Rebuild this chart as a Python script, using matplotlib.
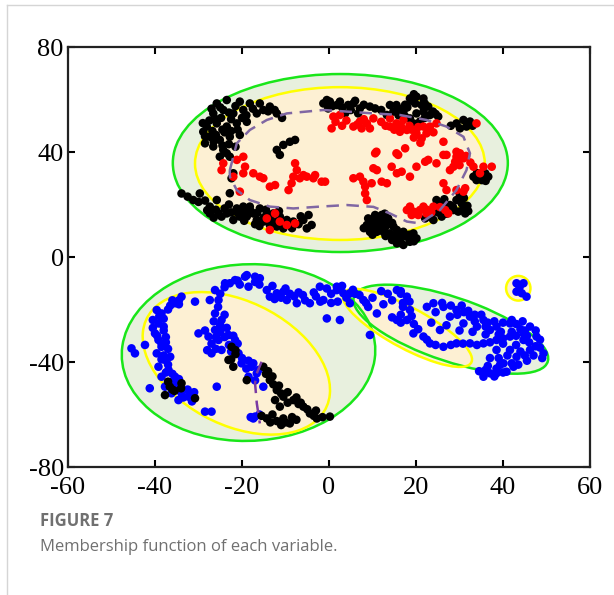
import matplotlib
matplotlib.use("Agg")
import matplotlib.pyplot as plt
from matplotlib.patches import Ellipse, Polygon
from matplotlib.lines import Line2D

plt.rcParams['axes.unicode_minus'] = False

# clusters (data units)
black_top = [
    (-25.8, 58.5), (-23.5, 59.8), (-20.5, 59.2), (-18.2, 58.5), (-15.9, 58.5), (-13.6, 57.3),
    (-12.0, 54.7), (-26.6, 54.7), (-24.3, 56.0), (-22.0, 54.7), (-19.7, 56.0), (-28.1, 49.7),
    (-25.8, 50.9), (-23.5, 49.7), (-21.2, 50.9), (-18.9, 51.5), (-27.4, 45.8), (-25.1, 44.6),
    (-22.8, 45.8), (-20.5, 46.5), (-26.6, 42.1), (-24.3, 40.8), (-22.8, 38.2), (-25.1, 38.2),
    (-28.9, 47.7), (-28.5, 43.3), (-15.1, 56.0), (-16.6, 54.7), (-24.8, 53.0), (-22.5, 52.5),
    (-26.8, 48.0), (-24.0, 47.5), (-21.0, 48.5), (-23.0, 43.0), (-27.5, 52.0), (-10.8, 53.0),
    (-27.0, 56.5), (-25.0, 57.0), (-21.5, 57.5), (-19.0, 54.0), (-17.5, 56.5), (-26.0, 52.5),
    (-23.0, 55.0), (-20.0, 53.0), (-28.5, 46.0), (-26.0, 46.5), (-24.5, 48.5), (-22.5, 48.0),
    (-26.5, 44.0), (-24.5, 42.5), (-23.5, 39.5), (-21.5, 42.0), (-29.0, 51.0), (-14.0, 55.5),
    (-12.5, 56.0),
    (-12.0, 40.8), (-10.5, 42.7), (-9.0, 43.9), (-7.8, 44.6), (-11.3, 38.9),
    (-22.4, 30.0), (-22.0, 31.9),
    (-33.9, 24.2), (-31.2, 21.7), (-29.7, 24.2), (-27.4, 19.2), (-27.4, 16.6), (-25.8, 21.7),
    (-25.4, 16.6), (-23.5, 16.6), (-22.8, 24.3), (-21.2, 18.5), (-19.7, 19.2), (-18.2, 19.2),
    (-20.5, 15.4), (-18.9, 15.4), (-17.4, 16.6), (-15.9, 18.5), (-16.6, 14.1), (-14.3, 16.6),
    (-15.1, 13.5), (-12.8, 16.6), (-11.3, 15.4), (-13.6, 12.2), (-9.7, 14.1), (-8.2, 13.5),
    (-10.5, 10.9), (-12.0, 11.6), (-5.9, 14.1), (-4.7, 16.0), (-5.1, 10.9), (-4.0, 12.2),
    (-22.0, 14.1), (-24.7, 15.4), (-19.0, 17.3), (-17.0, 12.5), (-21.0, 16.8), (-28.5, 21.5),
    (-26.0, 18.0), (-24.0, 18.5), (-22.5, 17.0), (-20.0, 17.5), (-18.0, 17.5), (-16.5, 16.8),
    (-15.0, 15.0), (-13.5, 14.5), (-12.0, 13.5), (-10.0, 12.5), (-8.5, 11.0), (-7.0, 12.5),
    (-6.5, 15.5), (-14.5, 18.0), (-11.5, 17.5), (-16.0, 11.8), (-19.5, 13.8), (-23.0, 20.0),
    (-32.5, 23.0), (-30.0, 21.0), (-28.0, 17.8), (-26.5, 15.0),
    (-1.3, 58.5), (0.2, 59.2), (1.8, 57.9), (2.5, 59.2), (4.4, 57.9), (5.6, 58.5), (7.1, 56.6),
    (9.4, 57.3), (10.6, 56.6), (-0.2, 56.6), (3.7, 54.7), (6.7, 54.7), (0.8, 57.5), (3.0, 57.0),
    (5.0, 56.0), (8.0, 58.0), (-0.5, 59.8), (6.0, 59.5), (12.0, 56.0),
    (14.0, 57.9), (15.5, 57.9), (14.8, 55.4), (13.3, 54.1), (17.1, 55.4), (18.6, 60.4),
    (20.1, 61.1), (21.7, 60.4), (19.8, 58.5), (21.3, 57.9), (22.8, 57.3), (23.9, 55.4),
    (21.7, 55.4), (23.2, 54.1), (25.1, 53.5), (20.1, 54.7), (19.4, 50.9), (20.9, 51.6),
    (18.6, 52.8), (19.5, 62.0), (17.5, 58.0), (16.0, 56.5), (18.0, 57.0), (19.0, 59.5),
    (22.0, 58.5), (24.5, 54.5), (22.0, 53.0), (17.5, 53.5), (16.0, 54.0),
    (29.3, 50.9), (30.9, 52.2), (32.4, 51.6), (30.1, 49.0), (31.6, 49.7), (28.0, 50.0), (33.0, 50.0),
    (33.2, 30.6), (34.7, 31.2), (35.9, 31.9), (35.1, 29.3), (36.6, 30.6), (33.9, 29.3),
    (36.0, 29.0), (34.0, 32.0),
    (24.7, 21.7), (26.3, 20.4), (24.7, 19.8), (27.8, 19.8), (29.3, 21.7), (30.1, 23.6),
    (28.6, 17.9), (30.9, 18.5), (31.3, 16.6), (29.7, 17.3), (23.2, 16.0), (22.1, 14.7),
    (24.0, 14.1), (25.9, 15.4), (30.5, 20.4), (26.5, 22.0), (28.5, 19.0), (31.8, 19.5),
    (31.0, 22.5), (27.0, 16.5), (25.0, 17.0), (32.0, 17.5), (23.5, 15.0),
    (9.0, 14.7), (10.6, 16.0), (12.1, 16.0), (13.6, 14.7), (8.7, 12.2), (10.2, 12.8),
    (11.7, 13.5), (13.3, 12.2), (14.8, 11.6), (9.4, 9.6), (11.0, 9.6), (12.5, 9.6),
    (14.0, 9.0), (11.3, 10.9), (9.8, 11.0), (12.8, 11.0), (10.0, 14.0), (12.0, 15.0),
    (8.0, 11.0), (9.5, 13.5), (11.5, 11.8), (13.0, 13.5), (14.5, 13.0), (10.8, 15.2),
    (12.8, 16.5), (10.0, 8.5), (13.0, 8.0), (15.0, 8.0),
    (15.6, 10.3), (17.1, 9.6), (16.3, 7.1), (17.9, 7.7), (19.4, 9.0), (20.1, 7.1),
    (18.6, 5.8), (15.6, 5.2), (17.1, 4.6), (16.5, 8.5), (18.5, 8.5), (19.5, 6.0),
    (16.5, 5.5), (14.5, 6.5),
]

red_top = [
    (-14.3, 14.7), (-12.4, 16.6), (-11.3, 13.5), (-13.6, 10.3), (-9.7, 12.2), (-7.8, 12.8),
    (-21.2, 37.0), (-19.7, 38.2), (-24.3, 35.7), (-24.7, 33.1), (-22.0, 30.6), (-19.7, 31.9),
    (-19.3, 34.4), (-17.4, 31.9), (-15.9, 30.6), (-15.1, 30.0), (-13.6, 26.8), (-12.4, 27.4),
    (-20.5, 24.9), (-9.3, 25.5), (-8.6, 28.1), (-8.2, 30.6), (-7.4, 33.1), (-7.8, 35.7),
    (-6.7, 30.0), (-5.1, 30.6), (-3.6, 30.0), (-5.9, 31.2), (-3.2, 31.2),
    (-1.7, 28.7), (-0.9, 28.7),
    (5.6, 30.0), (7.1, 30.6), (7.9, 28.7), (8.3, 26.8), (8.3, 24.2), (8.7, 21.7), (9.8, 28.1),
    (12.1, 28.7), (13.3, 28.1), (11.0, 33.1), (10.2, 33.8), (10.6, 39.5), (14.4, 34.4),
    (15.6, 31.9), (16.7, 32.5), (18.6, 30.6), (20.1, 34.4), (22.1, 36.3), (22.8, 37.0),
    (24.7, 35.7), (26.3, 38.9), (29.0, 36.3), (29.3, 38.2), (30.9, 37.6), (15.9, 38.9),
    (27.8, 33.1), (26.3, 28.1), (27.0, 25.5), (29.3, 25.5), (30.9, 24.9), (31.3, 26.2),
    (17.9, 17.9), (19.4, 17.3), (20.9, 17.9), (22.4, 16.6), (24.0, 19.2), (26.7, 17.9),
    (18.6, 19.2), (21.7, 19.2), (27.4, 16.6), (19.0, 16.0), (20.5, 16.0), (22.5, 18.0),
    (23.5, 17.0), (25.5, 19.0),
    (1.0, 53.5), (2.5, 54.1), (0.6, 49.0), (5.6, 49.7), (7.1, 51.6), (8.7, 50.9),
    (10.2, 52.8), (7.5, 49.0), (9.4, 49.0), (14.0, 52.8), (15.5, 50.9), (14.0, 49.7),
    (17.1, 52.2), (17.9, 48.4), (16.3, 47.7), (21.7, 49.7), (22.4, 47.1), (20.1, 47.1),
    (23.2, 49.7), (21.3, 45.2), (24.7, 50.9), (26.3, 43.9), (17.5, 41.4), (10.9, 40.1),
    (15.5, 39.5), (27.0, 38.9), (29.3, 40.1), (33.9, 50.9), (18.5, 50.0), (15.0, 48.5),
    (12.0, 51.5), (13.0, 50.0), (16.5, 50.0), (19.0, 48.5), (20.5, 49.5), (22.8, 48.3),
    (24.0, 47.5), (19.5, 45.5), (21.0, 43.5), (4.0, 52.0), (6.5, 50.5), (8.0, 52.5),
    (3.0, 50.0), (1.5, 51.5),
    (33.2, 34.4), (35.5, 34.4), (37.4, 34.4), (34.7, 31.9), (29.4, 36.9), (28.6, 34.4),
    (30.1, 39.5), (31.5, 38.5), (32.5, 36.0), (30.0, 35.0),
]

blue_bottom = [
    (-39.6, -20.2), (-38.5, -21.5), (-39.2, -25.3), (-40.0, -29.1), (-39.2, -31.6),
    (-38.5, -34.2), (-39.6, -36.7), (-37.7, -39.2), (-39.2, -41.8), (-36.9, -43.0),
    (-38.5, -45.6), (-35.4, -45.6), (-37.7, -49.4), (-36.2, -51.9), (-33.9, -51.9),
    (-34.6, -54.5), (-32.3, -53.2), (-35.4, -17.6), (-33.9, -15.1), (-30.8, -17.0),
    (-38.0, -23.5), (-40.5, -27.0), (-38.0, -28.0), (-37.5, -32.5), (-38.0, -37.5),
    (-37.0, -41.0), (-36.0, -47.5), (-34.5, -49.5), (-32.5, -50.5), (-31.5, -55.0),
    (-36.5, -18.5), (-34.5, -16.5), (-39.0, -22.5), (-40.5, -24.0), (-38.0, -26.5),
    (-39.5, -30.0), (-37.5, -30.5), (-38.5, -33.0), (-37.0, -35.0), (-38.5, -39.0),
    (-36.5, -38.0), (-37.5, -44.0), (-36.0, -44.5), (-34.5, -46.5), (-35.0, -48.5),
    (-33.5, -53.5), (-32.0, -52.0), (-31.0, -51.5), (-37.0, -20.0), (-36.0, -16.5),
    (-34.5, -18.0),
    (-44.6, -36.7), (-45.4, -34.8), (-42.3, -33.5), (-41.2, -50.0), (-28.5, -58.9),
    (-27.0, -58.9), (-25.8, -49.4),
    (-26.2, -12.6), (-23.9, -10.0), (-21.6, -8.8), (-19.3, -7.5), (-18.5, -11.3),
    (-25.4, -16.4), (-26.2, -21.5), (-24.7, -24.0), (-26.2, -27.8), (-27.7, -30.3),
    (-30.0, -29.1), (-25.4, -31.6), (-23.1, -29.7), (-27.0, -36.7), (-24.7, -35.4),
    (-21.6, -31.6), (-20.8, -36.7), (-20.1, -40.5), (-17.8, -41.8), (-18.5, -45.6),
    (-16.2, -43.0), (-17.0, -60.8), (-25.5, -19.0), (-25.0, -26.0), (-27.0, -33.0),
    (-23.0, -33.5), (-17.4, -40.5), (-16.6, -44.3), (-15.1, -49.4), (-17.4, -61.5),
    (-25.0, -14.0), (-24.0, -22.0), (-26.5, -24.5), (-25.0, -28.5), (-23.5, -27.0),
    (-28.5, -28.0), (-26.0, -30.5), (-24.0, -30.5), (-22.0, -30.0), (-21.0, -33.0),
    (-26.0, -35.0), (-28.0, -35.5), (-22.5, -36.0), (-20.0, -38.5), (-19.0, -42.5),
    (-18.5, -39.5), (-17.0, -47.0), (-16.0, -60.0), (-18.0, -61.0),
    (-27.4, -16.4), (-22.8, -10.0), (-18.9, -6.9), (-15.9, -8.1), (-14.3, -12.6),
    (-12.0, -13.8), (-9.7, -16.4), (-7.4, -17.6), (-4.4, -17.6), (-1.3, -16.4),
    (-2.1, -11.3), (1.8, -11.3), (3.3, -13.8), (4.8, -17.6), (7.9, -16.4), (11.0, -21.5),
    (9.4, -29.7), (2.5, -24.0), (-0.5, -23.4), (-13.6, -15.1), (-10.5, -13.2),
    (-6.0, -14.5), (-3.0, -15.0), (0.5, -14.0), (2.0, -17.0), (6.0, -14.0), (9.0, -19.0),
    (-11.0, -15.5), (-8.0, -15.0), (-17.0, -9.5), (-21.0, -9.0),
    (-24.0, -11.5), (-20.5, -10.5), (-17.0, -7.5), (-16.0, -10.5), (-13.0, -11.0),
    (-12.5, -16.0), (-10.0, -12.0), (-9.0, -14.0), (-7.0, -13.5), (-5.5, -16.5),
    (-3.5, -13.5), (-2.0, -17.0), (-0.5, -12.0), (0.5, -17.5), (3.0, -11.0), (4.0, -15.5),
    (5.5, -12.5), (7.0, -14.5), (8.5, -17.5), (10.0, -15.5), (12.0, -13.0), (13.5, -14.0),
    (14.5, -16.5), (16.5, -13.0), (12.5, -18.0),
    (1.8, -12.6), (4.8, -13.8), (15.6, -12.6), (17.9, -15.1), (18.6, -20.2),
    (17.9, -24.0), (15.6, -24.0), (19.4, -29.1), (21.7, -30.3), (23.2, -32.9),
    (26.3, -34.2), (29.3, -32.9), (32.4, -32.9), (35.5, -32.9), (38.5, -31.6),
    (41.6, -30.3), (44.7, -29.1), (47.7, -30.3), (49.3, -36.7), (46.2, -35.4),
    (43.1, -38.0), (40.1, -40.5), (37.0, -44.3), (35.5, -45.6), (38.5, -35.4),
    (41.6, -35.4), (44.7, -31.6), (17.0, -17.5), (16.5, -22.0), (19.5, -25.5),
    (26.3, -19.0), (29.3, -20.2), (32.4, -22.7), (35.5, -24.0), (38.5, -26.5),
    (41.6, -25.3), (27.8, -22.7), (30.9, -25.3), (34.0, -26.5), (37.0, -27.8),
    (42.0, -24.0), (46.2, -26.5), (25.5, -27.8), (22.5, -19.0), (24.0, -17.6),
    (28.0, -18.5), (31.0, -21.0), (33.5, -24.5), (36.5, -25.0), (39.5, -28.5),
    (44.0, -27.5), (46.0, -32.5), (43.0, -33.5), (40.0, -33.0), (47.5, -34.0),
    (45.0, -37.5), (42.0, -40.5), (38.5, -42.5), (37.0, -38.5), (35.5, -44.3),
    (38.5, -44.3), (40.8, -43.7), (42.4, -41.8), (39.3, -41.1),
    (16.5, -14.0), (18.5, -17.0), (17.0, -19.0), (19.0, -22.5), (16.5, -25.0), (14.5, -23.0),
    (20.5, -27.5), (22.5, -31.5), (24.5, -33.5), (28.0, -33.5), (30.8, -33.0), (34.0, -33.5),
    (37.0, -32.5), (40.0, -31.0), (43.0, -30.0), (45.5, -30.0), (48.5, -31.5), (48.5, -34.5),
    (49.0, -38.5), (47.0, -37.5), (44.0, -36.0), (41.0, -37.5), (39.0, -38.5), (36.5, -41.5),
    (36.0, -43.0), (34.5, -43.5), (38.0, -45.5), (40.0, -44.0), (43.5, -41.0), (45.5, -39.5),
    (24.5, -21.0), (26.0, -17.5), (29.5, -22.0), (30.5, -18.5), (32.0, -20.5), (33.5, -22.0),
    (35.0, -22.0), (36.0, -26.5), (38.0, -24.5), (40.0, -25.0), (43.0, -25.5), (44.5, -24.5),
    (45.0, -28.0), (47.5, -28.0), (42.0, -28.5), (39.0, -29.5), (36.0, -29.5), (33.0, -28.5),
    (30.0, -28.0), (27.0, -26.0), (23.5, -25.0),
    (43.1, -10.0), (44.7, -10.0), (43.1, -13.2), (44.3, -13.8), (45.4, -15.1), (43.8, -11.5),
]

black_bottom = [
    (-36.6, -49.4), (-37.7, -52.6), (-33.9, -48.1), (-30.8, -53.8), (-35.5, -51.0),
    (-36.0, -50.5), (-34.0, -50.0), (-37.0, -47.5),
    (-22.4, -34.2), (-23.1, -39.2), (-22.0, -41.8), (-18.9, -46.9), (-21.5, -37.0),
    (-21.5, -35.5), (-22.5, -39.0),
    (-15.1, -41.8), (-13.6, -46.9), (-12.0, -50.7), (-10.5, -53.2), (-8.2, -54.5),
    (-5.9, -57.0), (-4.4, -59.6), (-2.8, -61.5), (0.2, -60.8), (-14.3, -61.5),
    (-10.5, -61.5), (-9.0, -63.4), (-11.3, -57.0), (-12.4, -54.5), (-14.5, -44.5),
    (-12.8, -48.5), (-9.5, -55.5), (-7.0, -56.0), (-3.5, -60.5), (-8.5, -61.0),
    (-13.0, -60.0), (-11.0, -64.0), (-15.5, -60.5), (-14.0, -43.5), (-13.0, -45.5),
    (-11.5, -49.0), (-11.0, -52.0), (-9.5, -51.5), (-7.5, -53.5), (-6.5, -55.5),
    (-5.0, -58.0), (-3.0, -58.5), (-1.5, -61.0), (-12.0, -62.5), (-10.0, -63.0),
    (-7.5, -62.0), (-13.5, -63.0),
]

# ellipses: (cx, cy, width, height, angle)
green_ells = [(2.6, 35.8, 77.0, 67.8, 0), (-18.5, -36.4, 58.2, 67.4, -5), (28.0, -27.5, 51.6, 22.2, -33.4)]
yellow_ells = [(2.5, 35.6, 66.6, 58.2, 0), (-21.3, -40.5, 58.6, 37.0, -61), (18.0, -27.0, 40.0, 13.0, -45),
               (43.5, -11.9, 5.6, 9.4, 0)]

dash_top = [(-22.8, 33.1), (-21.2, 43.3), (-18.2, 48.4), (-14.3, 52.2), (-9.7, 54.7), (-1.3, 56.0),
            (4.1, 55.4), (10.2, 54.7), (16.3, 54.1), (22.4, 52.2), (27.0, 49.7), (30.9, 45.8),
            (32.4, 39.5), (31.6, 33.1), (29.3, 25.5), (25.5, 17.9), (20.9, 12.8), (17.9, 13.5),
            (14.0, 16.6), (10.2, 19.1), (4.1, 19.8), (-2.1, 19.2), (-8.2, 18.5), (-13.6, 19.2),
            (-18.2, 21.7), (-21.2, 25.5), (-22.8, 30.6)]
dash_bottom = [(-15.5, -39.9), (-16.6, -44.3), (-17.0, -48.1), (-16.6, -55.7), (-15.9, -63.4)]

xticks = [-60, -40, -20, 0, 20, 40, 60]
yticks = [-80, -40, 0, 40, 80]

fig = plt.figure(figsize=(6.14, 5.95), dpi=100)
ax = fig.add_axes([0.1107, 0.2151, 0.8503, 0.7059])

for cx, cy, w, h, a in green_ells:
    ax.add_patch(Ellipse((cx, cy), w, h, angle=a, facecolor='#e8f0de', edgecolor='none', zorder=1))
for cx, cy, w, h, a in yellow_ells:
    ax.add_patch(Ellipse((cx, cy), w, h, angle=a, facecolor='#fdf0d3', edgecolor='none', zorder=1.1))
for cx, cy, w, h, a in green_ells:
    ax.add_patch(Ellipse((cx, cy), w, h, angle=a, fill=False, edgecolor='#19e619', lw=1.8, zorder=2))
for cx, cy, w, h, a in yellow_ells:
    ax.add_patch(Ellipse((cx, cy), w, h, angle=a, fill=False, edgecolor='#ffff00', lw=1.8, zorder=2))

for pts, col in [(black_top, 'black'), (red_top, '#ff0000'), (blue_bottom, '#0000ff'), (black_bottom, 'black')]:
    ax.scatter([p[0] for p in pts], [p[1] for p in pts], s=38, color=col, edgecolors='none', zorder=3)

ax.add_patch(Polygon(dash_top, closed=True, fill=False, edgecolor='#8067a3', lw=1.8,
                     linestyle=(0, (5, 3)), zorder=4))
ax.plot([p[0] for p in dash_bottom], [p[1] for p in dash_bottom], color='#7a3aa3', lw=1.8,
        linestyle=(0, (5, 3)), zorder=4)

serif = {'family': 'Liberation Serif', 'size': 19}
ax.set_xlim(-60, 60)
ax.set_ylim(-80, 80)
ax.set_xticks(xticks)
ax.set_yticks(yticks)
ax.set_xticklabels([str(v) for v in xticks], fontdict=serif)
ax.set_yticklabels([str(v) for v in yticks], fontdict=serif)
ax.tick_params(direction='in', top=True, right=True, length=5, width=1.5)
ax.tick_params(axis='x', pad=7)
ax.tick_params(axis='y', pad=3)
for sp in ax.spines.values():
    sp.set_linewidth(1.6)
    sp.set_color('#222222')

# page frame and caption
fig.add_artist(Line2D([7 / 614, 7 / 614], [0, 1 - 5 / 595], color='#d5d5d5', lw=1))
fig.add_artist(Line2D([7 / 614, 1], [1 - 5 / 595, 1 - 5 / 595], color='#d5d5d5', lw=1))
fig.text(40 / 614, 1 - 521 / 595, 'FIGURE 7', fontsize=12, fontweight='bold', color='#707070',
         family='Open Sans', va='center')
fig.text(40 / 614, 1 - 547 / 595, 'Membership function of each variable.', fontsize=12,
         color='#707070', family='Open Sans', va='center')

fig.savefig('out.png', dpi=100)
